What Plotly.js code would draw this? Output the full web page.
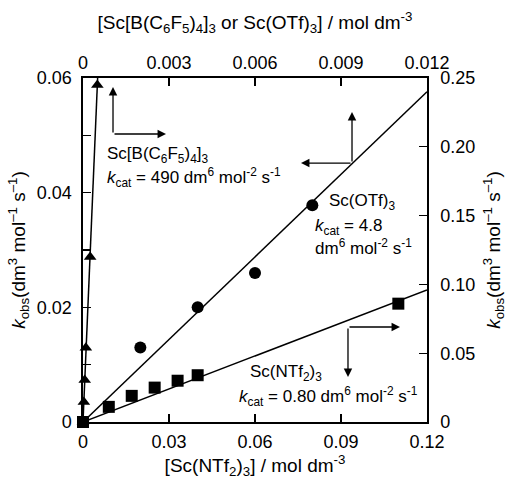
<!DOCTYPE html>
<html><head><meta charset="utf-8">
<script src="https://cdn.plot.ly/plotly-3.0.1.min.js"></script>
<style>html,body{margin:0;padding:0;background:#fff}</style>
</head><body>
<div id="chart" style="width:512px;height:480px"></div>
<script>
// Sc(NTf2)3 : bottom x axis, right y axis
const ntf2Conc = [0, 0.009, 0.017, 0.025, 0.033, 0.040, 0.110];
const ntf2Kobs = [0, 0.011, 0.019, 0.025, 0.030, 0.034, 0.086];
// Sc(OTf)3 : top x axis, left y axis
const otfConc = [0.002, 0.004, 0.006, 0.008];
const otfKobs = [0.013, 0.020, 0.026, 0.0378];
// Sc[B(C6F5)4]3 : top x axis, right y axis
const bConc = [0, 0.00003, 0.00006, 0.0001, 0.00025, 0.0005];
const bKobs = [0, 0.0145, 0.0305, 0.054, 0.120, 0.245];
// catalytic rate constants (fit-line slopes)
const kcatNTf2 = 0.80;
const kcatOTf = 4.8;
const kcatB = 490;

// tick values / labels
const bottomTicks = [0, 0.03, 0.06, 0.09, 0.12];
const bottomLabels = ['0', '0.03', '0.06', '0.09', '0.12'];
const topTicks = [0, 0.003, 0.006, 0.009, 0.012];
const topLabels = ['0', '0.003', '0.006', '0.009', '0.012'];
const leftTicks = [0, 0.01, 0.02, 0.03, 0.04, 0.05, 0.06];
const leftLabels = ['0', '', '0.02', '', '0.04', '', '0.06'];
const rightTicks = [0, 0.05, 0.10, 0.15, 0.20, 0.25];
const rightLabels = ['0', '0.05', '0.10', '0.15', '0.20', '0.25'];

const FONT = 'Liberation Sans, Arial, Helvetica, sans-serif';
const xMax = bottomTicks[bottomTicks.length - 1];
const x2Max = topTicks[topTicks.length - 1];
const yMax = leftTicks[leftTicks.length - 1];
const y2Max = rightTicks[rightTicks.length - 1];

const lineStyle = {color: 'black', width: 1.5};
const traces = [
  {x: [], y: [], xaxis: 'x', yaxis: 'y', mode: 'markers', hoverinfo: 'skip'},
  {x: [0, xMax], y: [0, kcatNTf2 * xMax], xaxis: 'x', yaxis: 'y2', mode: 'lines', line: lineStyle, cliponaxis: false},
  {x: [0, x2Max], y: [0, kcatOTf * x2Max], xaxis: 'x2', yaxis: 'y', mode: 'lines', line: lineStyle, cliponaxis: false},
  {x: [0, y2Max / kcatB], y: [0, y2Max], xaxis: 'x2', yaxis: 'y2', mode: 'lines', line: lineStyle, cliponaxis: false},
  {x: otfConc, y: otfKobs, xaxis: 'x2', yaxis: 'y', mode: 'markers', cliponaxis: false,
   marker: {symbol: 'circle', size: 12, color: 'black'}},
  {x: bConc, y: bKobs, xaxis: 'x2', yaxis: 'y2', mode: 'markers', cliponaxis: false,
   marker: {symbol: 'triangle-up', size: 11, color: 'black'}},
  {x: ntf2Conc, y: ntf2Kobs, xaxis: 'x', yaxis: 'y2', mode: 'markers', cliponaxis: false,
   marker: {symbol: 'square', size: 12, color: 'black'}}
];

const titleFont = {family: FONT, size: 19, color: 'black'};
const axisBase = {
  showline: true, linecolor: 'black', linewidth: 1.6, ticks: 'inside', ticklen: 8,
  tickwidth: 1.3, tickcolor: 'black', showgrid: false, zeroline: false,
  tickmode: 'array', tickfont: {family: FONT, size: 18, color: 'black'}
};

function arrow(x, y, ax, ay) {
  return {x: x, y: y, ax: ax, ay: ay, xref: 'x', yref: 'y', axref: 'x', ayref: 'y',
          text: '', showarrow: true, arrowhead: 2, arrowsize: 1.3, arrowwidth: 1.3, arrowcolor: 'black'};
}
function label(x, y, text) {
  return {x: x, y: y, xref: 'x', yref: 'y', text: text, showarrow: false, xanchor: 'left', yanchor: 'middle',
          font: {family: FONT, size: 17, color: 'black'}};
}
const kcatTxt = v => '<i>k</i><sub>cat</sub> = ' + v;
const units = 'dm<sup>6</sup> mol<sup>-2</sup> s<sup>-1</sup>';

const annotations = [
  arrow(0.01047, 0.05843, 0.01047, 0.05023),
  arrow(0.02895, 0.05023, 0.01047, 0.05023),
  arrow(0.09384, 0.05407, 0.09384, 0.04517),
  arrow(0.07605, 0.04517, 0.09384, 0.04517),
  arrow(0.09244, 0.00785, 0.09244, 0.01657),
  arrow(0.11058, 0.01657, 0.09244, 0.01657),
  label(0.00767, 0.04657, 'Sc[B(C<sub>6</sub>F<sub>5</sub>)<sub>4</sub>]<sub>3</sub>'),
  label(0.00767, 0.04273, kcatTxt(kcatB) + ' ' + units),
  label(0.08512, 0.03837, 'Sc(OTf)<sub>3</sub>'),
  label(0.08023, 0.03401, kcatTxt(kcatOTf)),
  label(0.08023, 0.03052, units),
  label(0.05756, 0.00855, 'Sc(NTf<sub>2</sub>)<sub>3</sub>'),
  label(0.05372, 0.00453, kcatTxt(kcatNTf2.toFixed(2)) + ' ' + units)
];

const kobsTitle = '<i>k</i><sub>obs</sub>(dm<sup>3</sup> mol<sup>\u20131</sup> s<sup>\u20131</sup>)';

const layout = {
  width: 512, height: 480, showlegend: false,
  paper_bgcolor: 'white', plot_bgcolor: 'rgba(0,0,0,0)',
  margin: {l: 83, r: 85, t: 78, b: 58},
  xaxis: Object.assign({}, axisBase, {range: [0, xMax], tickvals: bottomTicks, ticktext: bottomLabels,
    ticklabelstandoff: 3,
    title: {text: '[Sc(NTf<sub>2</sub>)<sub>3</sub>] / mol dm<sup>-3</sup>', standoff: 6, font: titleFont}}),
  xaxis2: Object.assign({}, axisBase, {range: [0, x2Max], tickvals: topTicks, ticktext: topLabels,
    overlaying: 'x', side: 'top', anchor: 'y',
    title: {text: '[Sc[B(C<sub>6</sub>F<sub>5</sub>)<sub>4</sub>]<sub>3</sub> or Sc(OTf)<sub>3</sub>] / mol dm<sup>-3</sup>',
            standoff: 18, font: titleFont}}),
  yaxis: Object.assign({}, axisBase, {range: [0, yMax], tickvals: leftTicks, ticktext: leftLabels,
    ticklabelstandoff: 6,
    title: {text: kobsTitle, standoff: 6, font: titleFont}}),
  yaxis2: Object.assign({}, axisBase, {range: [0, y2Max], tickvals: rightTicks, ticktext: rightLabels,
    overlaying: 'y', side: 'right', anchor: 'x', ticklabelstandoff: 8,
    title: {text: kobsTitle, standoff: 12, font: titleFont}}),
  annotations: annotations
};

Plotly.newPlot('chart', traces, layout, {displayModeBar: false, staticPlot: true});
</script>
</body></html>
